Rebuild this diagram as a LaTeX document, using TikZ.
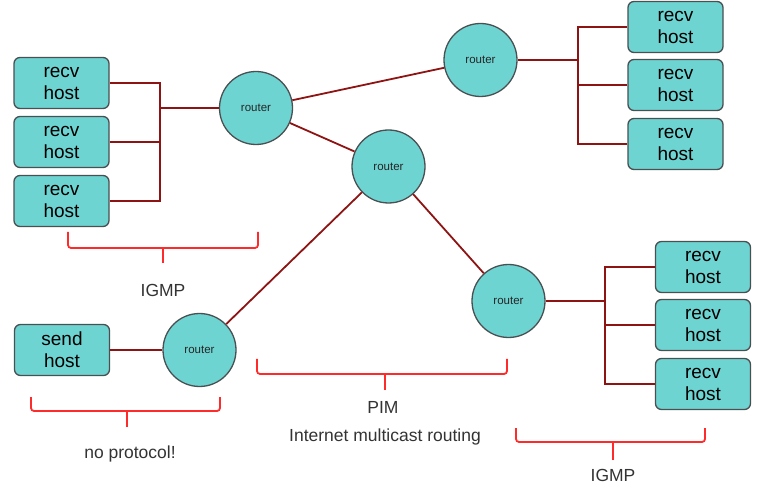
\documentclass[tikz,border=0pt]{standalone}
\usepackage{fontspec}
\setmainfont{Liberation Sans}
\definecolor{hostfill}{HTML}{6DD4D2}
\definecolor{edgegray}{HTML}{4A4F52}
\definecolor{linkred}{HTML}{8E1414}
\definecolor{bracered}{HTML}{FF2A2A}
\tikzset{
  host/.style={draw=edgegray, line width=1.3pt, fill=hostfill, rounded corners=6pt,
    minimum width=95pt, minimum height=51pt, align=center,
    font=\fontsize{19}{22}\selectfont},
  router/.style={circle, draw=edgegray, line width=1.3pt, fill=hostfill,
    minimum size=73pt, inner sep=0pt, font=\fontsize{11.5}{13}\selectfont, text=black!85},
  link/.style={draw=linkred, line width=1.8pt},
  bracket/.style={draw=bracered, line width=1.8pt, rounded corners=3pt},
  label/.style={font=\fontsize{17.5}{20}\selectfont, text=black!80}
}
\begin{document}
\begin{tikzpicture}[x=1pt,y=-1pt]
      \useasboundingbox (0,0) rectangle (758,486);
      \draw
        (256,108) node[router] (r1){router}
        (480.5,60) node[router] (r2){router}
        (388.5,166.5) node[router] (r3){router}
        (508.5,301) node[router] (r4){router}
        (199.5,350) node[router] (r5){router};
      \draw
        (61.5,83) node[host] (h1){recv\\host}
        (61.5,142) node[host] (h2){recv\\host}
        (61.5,201) node[host] (h3){recv\\host}
        (675.5,27) node[host] (h4){recv\\host}
        (675.5,85) node[host] (h5){recv\\host}
        (675.5,144) node[host] (h6){recv\\host}
        (703,267) node[host] (h7){recv\\host}
        (703,325) node[host] (h8){recv\\host}
        (703,384) node[host] (h9){recv\\host}
        (62,350) node[host] (s1){send\\host};
      \coordinate (b1) at (160,108);
      \coordinate (b2) at (578,60);
      \coordinate (b3) at (605,301);
      \begin{scope}[link]
        \draw (r1) to (r2);
        \draw (r1) to (r3);
        \draw (r3) to (r4);
        \draw (r3) to (r5);
        \draw (s1) to (r5);
        \draw (r1) to (b1);
        \draw (h1.east) -| (b1);
        \draw (h2.east) -| (b1);
        \draw (h3.east) -| (b1);
        \draw (r2) to (b2);
        \draw (h4.west) -| (b2);
        \draw (h5.west) -| (b2);
        \draw (h6.west) -| (b2);
        \draw (r4) to (b3);
        \draw (h7.west) -| (b3);
        \draw (h8.west) -| (b3);
        \draw (h9.west) -| (b3);
      \end{scope}
      \draw[bracket] (68,232) -- (68,248) -- (163,248) -- (258,248) -- (258,232);
      \draw[bracket] (163,248) -- (163,263);
      \draw[bracket] (31,397) -- (31,411) -- (127,411) -- (220,411) -- (220,397);
      \draw[bracket] (127,411) -- (127,427);
      \draw[bracket] (257,359) -- (257,374) -- (385,374) -- (507,374) -- (507,359);
      \draw[bracket] (385,374) -- (385,390);
      \draw[bracket] (516,428) -- (516,442) -- (613,442) -- (705,442) -- (705,428);
      \draw[bracket] (613,442) -- (613,460);
      \node[label] (igmp1) at (163,290) {IGMP};
      \node[label] (noproto) at (130,454) {no protocol!};
      \node[label] (pim) at (383,407) {PIM};
      \node[label] (pimtext) at (385,437) {Internet multicast routing};
      \node[label] (igmp2) at (613,475) {IGMP};
    \end{tikzpicture}
\end{document}
